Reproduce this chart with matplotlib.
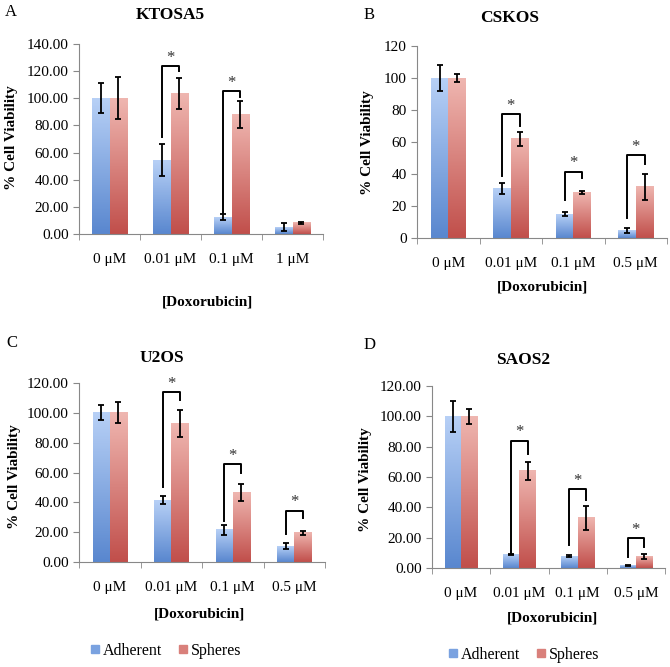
import numpy as np
import matplotlib.pyplot as plt
from matplotlib.colors import LinearSegmentedColormap
from matplotlib.lines import Line2D

plt.rcParams['font.family'] = ['Liberation Serif', 'DejaVu Serif']

doses_a = ['0 \u03bcM', '0.01 \u03bcM', '0.1 \u03bcM', '1 \u03bcM']
doses_b = ['0 \u03bcM', '0.01 \u03bcM', '0.1 \u03bcM', '0.5 \u03bcM']

# KTOSA5
adh_a = [100.0, 54.5, 12.5, 5.0]
adh_a_err = [11.0, 12.0, 2.5, 3.0]
sph_a = [100.0, 103.5, 88.0, 8.3]
sph_a_err = [15.5, 11.5, 10.0, 0.7]
brk_a = [(1, 124.0, 71.5, 120.0), (2, 105.5, 15.5, 101.0)]

# CSKOS
adh_b = [100.0, 31.0, 15.0, 4.5]
adh_b_err = [8.0, 3.5, 1.0, 1.5]
sph_b = [100.0, 62.0, 28.5, 32.0]
sph_b_err = [2.5, 4.5, 0.8, 8.0]
brk_b = [(1, 77.5, 39.0, 70.0), (2, 41.5, 24.0, 37.5), (3, 52.0, 12.5, 46.5)]

# U2OS
adh_c = [100.0, 41.5, 21.5, 10.5]
adh_c_err = [5.0, 2.5, 3.5, 2.0]
sph_c = [100.0, 93.0, 46.5, 19.5]
sph_c_err = [7.0, 9.0, 5.5, 1.5]
brk_c = [(1, 114.0, 50.5, 108.5), (2, 65.5, 27.5, 59.5), (3, 34.5, 19.0, 29.5)]

# SAOS2
adh_d = [100.0, 9.0, 7.8, 1.5]
adh_d_err = [10.0, 0.5, 0.5, 0.3]
sph_d = [100.0, 64.0, 33.0, 7.5]
sph_d_err = [5.0, 6.0, 8.0, 1.5]
brk_d = [(1, 84.0, 9.5, 75.0), (2, 52.0, 15.0, 45.0), (3, 19.7, 7.2, 14.0)]

blue_cm = LinearSegmentedColormap.from_list('b', ['#5987cf', '#b7d0f6'])
red_cm = LinearSegmentedColormap.from_list('r', ['#c14f4b', '#efb6b0'])
grad = np.linspace(0, 1, 100).reshape(-1, 1)

W, H = 670, 667
fig = plt.figure(figsize=(6.7, 6.67), dpi=100)


def px_axes(l, r, t, b):
    return fig.add_axes([l / W, 1 - b / H, (r - l) / W, (b - t) / H])


def panel(rect, labels, adh, adh_err, sph, sph_err, brk, ymax, step, fmt, title,
          title_xy, letter_xy, letter, ylab_xy, xlab_xy):
    ax = px_axes(*rect)
    x = np.arange(len(labels))
    bw = 0.28
    for xs, vals, cm in ((x - bw / 2, adh, blue_cm), (x + bw / 2, sph, red_cm)):
        for xi, v in zip(xs, vals):
            ax.imshow(grad, extent=[xi - bw / 2, xi + bw / 2, 0, v], origin='lower',
                      aspect='auto', cmap=cm, zorder=1)
    ax.errorbar(x - bw / 2, adh, yerr=adh_err, fmt='none', ecolor='black',
                elinewidth=1.3, capsize=2.5, capthick=1.3, zorder=3)
    ax.errorbar(x + bw / 2, sph, yerr=sph_err, fmt='none', ecolor='black',
                elinewidth=1.3, capsize=2.5, capthick=1.3, zorder=3)
    for g, top, lb, rb in brk:
        ax.plot([g - bw / 2, g - bw / 2, g + bw / 2, g + bw / 2], [lb, top, top, rb],
                color='black', lw=1.4, zorder=4)
        ax.annotate('*', (g, top), xytext=(0, 3), textcoords='offset points',
                    ha='center', va='baseline', fontsize=12, color='#333333')
    ax.set_xlim(-0.5, len(labels) - 0.5)
    ax.set_ylim(0, ymax)
    ax.set_yticks(np.arange(0, ymax + 0.1, step))
    ax.set_yticklabels([fmt.format(v) for v in np.arange(0, ymax + 0.1, step)])
    ax.set_xticks(x)
    ax.set_xticklabels(labels)
    ax.set_xticks(np.arange(-0.5, len(labels)), minor=True)
    ax.tick_params(axis='x', which='major', length=0, pad=14, labelsize=11)
    ax.tick_params(axis='x', which='minor', length=4, color='#888888')
    ax.tick_params(axis='y', length=4, color='#888888', labelsize=11)
    for s in ('top', 'right'):
        ax.spines[s].set_visible(False)
    for s in ('left', 'bottom'):
        ax.spines[s].set_color('#888888')
    fig.text(title_xy[0] / W, 1 - title_xy[1] / H, title, ha='center', va='center',
             fontsize=12.5, fontweight='bold')
    fig.text(letter_xy[0] / W, 1 - letter_xy[1] / H, letter, ha='center', va='center',
             fontsize=12)
    fig.text(ylab_xy[0] / W, 1 - ylab_xy[1] / H, '% Cell Viability', ha='center',
             va='center', rotation=90, fontsize=11, fontweight='bold')
    fig.text(xlab_xy[0] / W, 1 - xlab_xy[1] / H, '[Doxorubicin]', ha='center',
             va='center', fontsize=11, fontweight='bold')
    return ax


panel((79, 323, 44, 234), doses_a, adh_a, adh_a_err, sph_a, sph_a_err, brk_a,
      140, 20, '{:.2f}', 'KTOSA5', (170, 15), (11, 12), 'A', (12, 138), (207, 302))
panel((417, 667, 46, 238), doses_b, adh_b, adh_b_err, sph_b, sph_b_err, brk_b,
      120, 20, '{:.0f}', 'CSKOS', (510, 18), (369, 15), 'B', (368, 143), (542, 287))
panel((79, 325, 383, 562), doses_b, adh_c, adh_c_err, sph_c, sph_c_err, brk_c,
      120, 20, '{:.2f}', 'U2OS', (162, 358), (12, 343), 'C', (15, 477), (200, 614))
panel((432, 665, 386, 568), doses_b, adh_d, adh_d_err, sph_d, sph_d_err, brk_d,
      120, 20, '{:.2f}', 'SAOS2', (523, 360), (370, 345), 'D', (365, 480), (552, 618))

handles = [Line2D([], [], marker='s', ls='none', color='#7aa2e0', markersize=6),
           Line2D([], [], marker='s', ls='none', color='#d9807b', markersize=6)]
for cx, cy in ((164, 651), (522, 655)):
    fig.legend(handles, ['Adherent', 'Spheres'], loc='center', ncol=2,
               bbox_to_anchor=(cx / W, 1 - cy / H), frameon=False, fontsize=11.5,
               handletextpad=0.0, columnspacing=0.8, handlelength=1.0)

fig.savefig('out.png', dpi=100)
